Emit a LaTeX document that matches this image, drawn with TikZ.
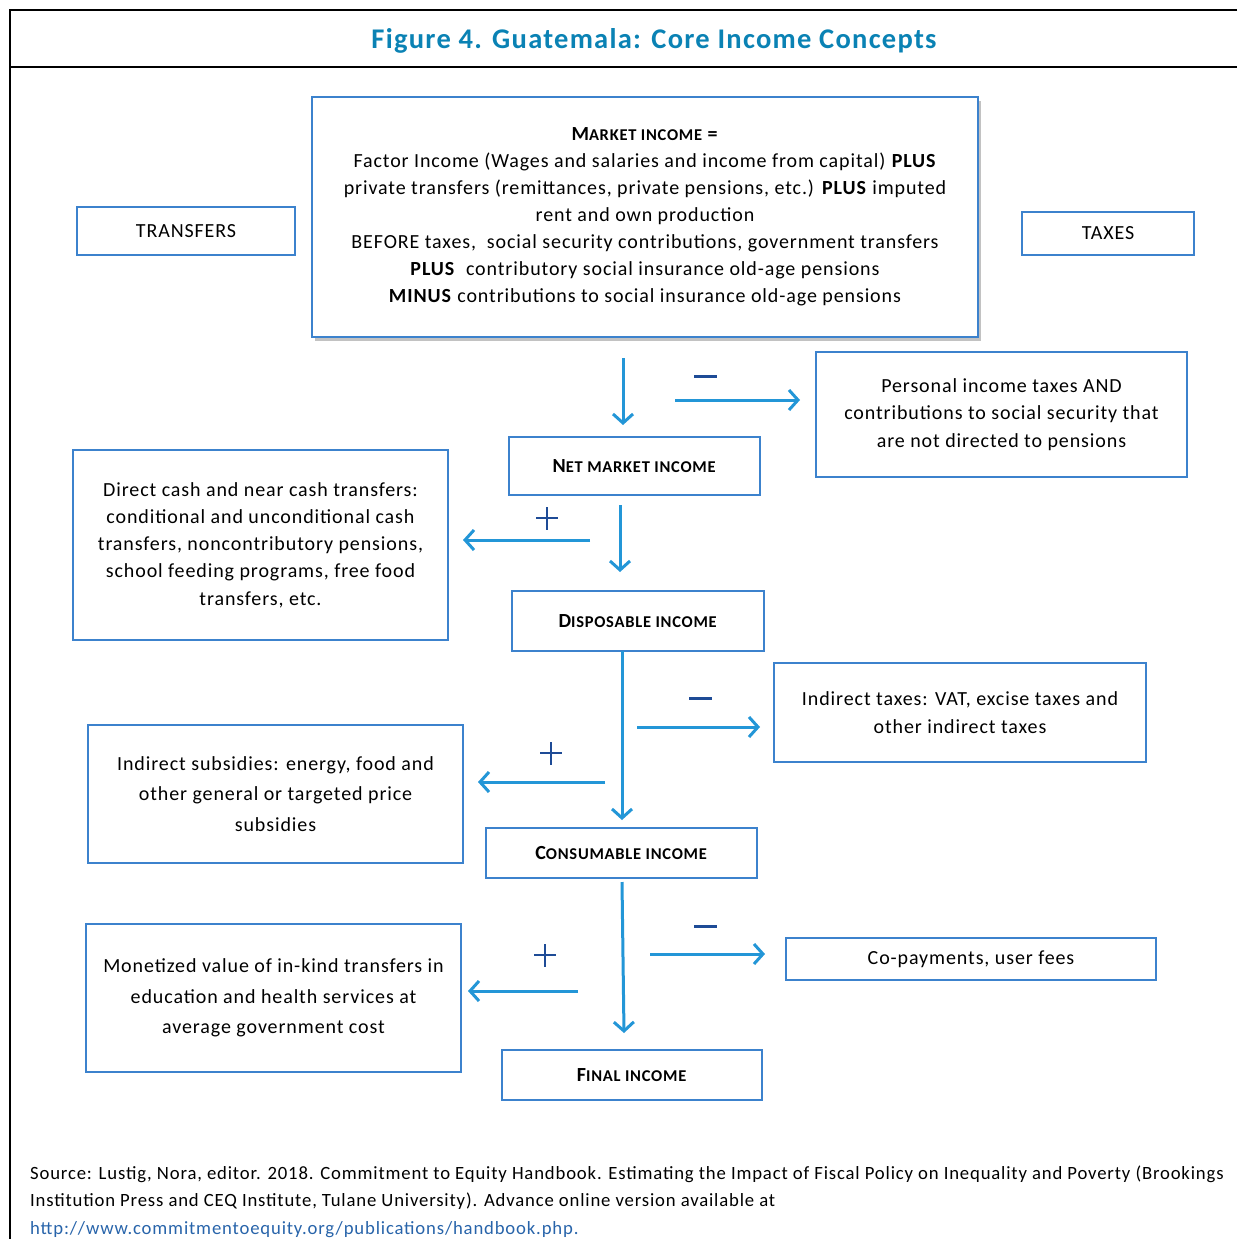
\documentclass[tikz,border=0pt]{standalone}
\usepackage{fontspec}
\setmainfont{Carlito}[LetterSpace=4.5]
\usetikzlibrary{arrows.meta,shadows}
\definecolor{boxblue}{RGB}{60,130,205}
\definecolor{arrblue}{RGB}{35,150,215}
\definecolor{signblue}{RGB}{30,75,150}
\definecolor{titleblue}{RGB}{10,130,180}
\definecolor{linkblue}{RGB}{40,100,170}
\newcommand{\fsc}[2]{#1{\fontsize{16.5}{20}\selectfont #2}}
\tikzset{
  box/.style={draw=boxblue, line width=2pt, align=center, inner sep=0pt,
    font=\fontsize{20}{27}\selectfont, text=black},
  flow/.style={draw=arrblue, line width=3pt, -{Straight Barb[length=9pt,width=20pt,line width=3pt]}},
  minussign/.style={draw=signblue, line width=3pt},
  plussign/.style={draw=signblue, line width=2pt},
  frameline/.style={draw=black, line width=2pt}
}
\begin{document}
\begin{tikzpicture}[x=1pt,y=-1pt]
\useasboundingbox (0,0) rectangle (1237,1239);
% frame
\draw[frameline] (1237,10) -- (10,10) -- (10,1239);
\draw[frameline] (10,67) -- (1237,67);
\node[font=\bfseries\fontsize{28.5}{34}\selectfont, text=titleblue] (title) at (654,41) {Figure 4. Guatemala: Core Income Concepts};

% boxes
\node[box, minimum width=666pt, minimum height=240pt, fill=white,
  drop shadow={shadow xshift=3pt, shadow yshift=-4pt, fill=black!40, opacity=0.6}] (mkt) at (645,217)
  {\textbf{\fsc{M}{ARKET INCOME} =}\\
   Factor Income (Wages and salaries and income from capital) \textbf{PLUS}\\
   private transfers (remittances, private pensions, etc.) \textbf{PLUS} imputed\\
   rent and own production\\
   BEFORE taxes,\ \ social security contributions, government transfers\\
   \textbf{PLUS}\ \ contributory social insurance old-age pensions\\
   \textbf{MINUS} contributions to social insurance old-age pensions};
\node[box, minimum width=218pt, minimum height=48pt] (transfers) at (186,231) {TRANSFERS};
\node[box, minimum width=172pt, minimum height=43pt] (taxes) at (1108,233.5) {TAXES};
\node[box, minimum width=371pt, minimum height=125pt, font=\fontsize{20}{27.5}\selectfont] (pers) at (1001.5,414.5)
  {Personal income taxes AND\\contributions to social security that\\are not directed to pensions\rule[-3pt]{0pt}{0pt}};
\node[box, minimum width=251pt, minimum height=58pt] (net) at (634.5,466) {\textbf{\fsc{N}{ET MARKET INCOME}}};
\node[box, minimum width=375pt, minimum height=190pt, font=\fontsize{20}{27.25}\selectfont] (direct) at (260.5,545)
  {Direct cash and near cash transfers:\\conditional and unconditional cash\\transfers, noncontributory pensions,\\school feeding programs, free food\\transfers, etc.};
\node[box, minimum width=252pt, minimum height=60pt] (disp) at (638,621) {\textbf{\fsc{D}{ISPOSABLE INCOME}}};
\node[box, minimum width=372pt, minimum height=99pt, font=\fontsize{20}{28}\selectfont] (indtax) at (960,712.5)
  {Indirect taxes: VAT, excise taxes and\\other indirect taxes};
\node[box, minimum width=375pt, minimum height=138pt, font=\fontsize{20}{30.5}\selectfont] (indsub) at (275.5,794)
  {Indirect subsidies: energy, food and\\other general or targeted price\\subsidies};
\node[box, minimum width=271pt, minimum height=50pt] (cons) at (621.5,853) {\textbf{\fsc{C}{ONSUMABLE INCOME}}};
\node[box, minimum width=370pt, minimum height=42pt] (copay) at (971,959) {Co-payments, user fees};
\node[box, minimum width=375pt, minimum height=148pt, font=\fontsize{20}{30.5}\selectfont] (monet) at (273.5,998)
  {Monetized value of in-kind transfers in\\education and health services at\\average government cost};
\node[box, minimum width=260pt, minimum height=50pt] (final) at (632,1075) {\textbf{\fsc{F}{INAL INCOME}}};

% arrow end points
\coordinate (a1s) at (623,358);  \coordinate (a1e) at (623,425);
\coordinate (r1s) at (675,400);  \coordinate (r1e) at (800,400);
\coordinate (l1s) at (590,540);  \coordinate (l1e) at (463,540);
\coordinate (a2s) at (620,505);  \coordinate (a2e) at (620,572);
\coordinate (a3s) at (622,651);  \coordinate (a3e) at (622,820);
\coordinate (r2s) at (637,727);  \coordinate (r2e) at (760,727);
\coordinate (l2s) at (605,782);  \coordinate (l2e) at (478,782);
\coordinate (a4s) at (622,882);  \coordinate (a4e) at (624,1033);
\coordinate (r3s) at (650,954);  \coordinate (r3e) at (765,954);
\coordinate (l3s) at (578,991);  \coordinate (l3e) at (468,991);

\draw[flow] (a1s) -- (a1e);
\draw[flow] (r1s) -- (r1e);
\draw[flow] (l1s) -- (l1e);
\draw[flow] (a2s) -- (a2e);
\draw[flow] (a3s) -- (a3e);
\draw[flow] (r2s) -- (r2e);
\draw[flow] (l2s) -- (l2e);
\draw[flow] (a4s) -- (a4e);
\draw[flow] (r3s) -- (r3e);
\draw[flow] (l3s) -- (l3e);

% signs
\draw[minussign] (694,376) -- (717,376);
\draw[minussign] (689,698) -- (712,698);
\draw[minussign] (694,926) -- (717,926);
\draw[plussign] (536,518) -- (558,518) (547,507) -- (547,530);
\draw[plussign] (540,753) -- (562,753) (551,742) -- (551,765);
\draw[plussign] (534,955) -- (556,955) (545,944) -- (545,967);

% source
\node[anchor=mid west, inner sep=0pt, font=\fontsize{18.7}{22}\selectfont] (src1) at (30,1177)
  {Source: Lustig, Nora, editor. 2018. Commitment to Equity Handbook. Estimating the Impact of Fiscal Policy on Inequality and Poverty (Brookings};
\node[anchor=mid west, inner sep=0pt, font=\fontsize{18.7}{22}\selectfont] (src2) at (30,1204)
  {Institution Press and CEQ Institute, Tulane University). Advance online version available at};
\node[anchor=mid west, inner sep=0pt, font=\fontsize{18.7}{22}\selectfont, text=linkblue] (src3) at (30,1232)
  {http://www.commitmentoequity.org/publications/handbook.php.};
\end{tikzpicture}
\end{document}
